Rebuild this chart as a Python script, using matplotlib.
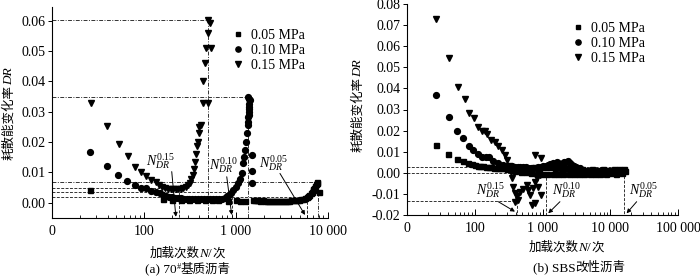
import matplotlib
matplotlib.use("Agg")
import matplotlib.pyplot as plt
from matplotlib.ticker import FixedLocator, LogLocator, NullFormatter

plt.rcParams['font.family'] = ['Liberation Serif', 'Noto Sans CJK SC']
plt.rcParams['mathtext.fontset'] = 'custom'
plt.rcParams['mathtext.rm'] = 'Liberation Serif'
plt.rcParams['mathtext.it'] = 'Liberation Serif:italic'
plt.rcParams['mathtext.bf'] = 'Liberation Serif:bold'
plt.rcParams['axes.unicode_minus'] = False

# ---------------- data: (a) 70# base asphalt ----------------
a_N_005 = [26, 160, 200, 250, 310, 380, 460, 550, 643, 828, 1000, 1120, 1257,
           1530, 1600, 1680, 1760, 1850, 1950, 2050, 2160, 2280, 2400,
           2530, 2660, 2800, 2950, 3100, 3260, 3430, 3610, 3800, 4000,
           4200, 4420, 4650, 4900, 5150, 5400, 5650, 5900, 6100, 6300,
           6500, 6700, 6850, 7000, 7150, 7280, 7430, 7590, 7700, 8040]
a_DR_005 = [0.0041, 0.0011, 0.0010, 0.0009, 0.0009, 0.0008, 0.0008, 0.0008,
            0.0008, 0.0006, 0.0007, 0.0006, 0.0006,
            0.0008, 0.0007, 0.0008, 0.0007, 0.0006, 0.0007, 0.0006, 0.0006, 0.0005, 0.0006,
            0.0005, 0.0005, 0.0006, 0.0005, 0.0005, 0.0006, 0.0005, 0.0006, 0.0006, 0.0007,
            0.0007, 0.0008, 0.0009, 0.0010, 0.0011, 0.0013, 0.0015, 0.0019, 0.0022, 0.0026,
            0.0030, 0.0036, 0.0040, 0.0045, 0.0049, 0.0054, 0.0060, 0.0066, 0.0069, 0.0036]

a_N_010 = [26, 39, 52, 65, 80, 92, 105, 119, 134, 149,
           160, 172, 185, 200, 215, 232, 250, 270, 290, 312,
           336, 362, 390, 420, 452, 487, 524, 565, 608, 655,
           705, 760, 794, 840, 890, 937, 1000, 1062, 1110, 1156,
           1205, 1230, 1257, 1285, 1312, 1340, 1365, 1380, 1400, 1425,
           1370, 1390, 1375, 1395, 1385, 1360, 1510, 1510, 1510]
a_DR_010 = [0.0166, 0.0120, 0.0090, 0.0072, 0.0057, 0.0047, 0.0047, 0.0039, 0.0035, 0.0030,
            0.0025, 0.0021, 0.0019, 0.0017, 0.0016, 0.0015, 0.0014, 0.0013, 0.0013, 0.0012,
            0.0012, 0.0011, 0.0011, 0.0011, 0.0011, 0.0011, 0.0012, 0.0012, 0.0012, 0.0013,
            0.0013, 0.0016, 0.0020, 0.0025, 0.0032, 0.0041, 0.0050, 0.0063, 0.0078, 0.0096,
            0.0129, 0.0150, 0.0173, 0.0200, 0.0228, 0.0255, 0.0283, 0.0300, 0.0316, 0.0338,
            0.0349, 0.0343, 0.0325, 0.0310, 0.0290, 0.0265, 0.0157, 0.0105, 0.0063]

a_N_015 = [26.4, 39.1, 53.3, 66.8, 79.6, 91.8, 105, 119, 134, 146,
           158, 170, 182, 195, 208, 222, 236, 251, 267, 284,
           302, 315, 328, 340, 352, 362, 372, 380, 386, 392,
           399, 416, 435, 500, 441, 460, 470, 531, 500, 500, 520]
a_DR_015 = [0.0329, 0.0253, 0.0192, 0.0154, 0.0118, 0.0102, 0.0088, 0.0074, 0.0067, 0.0059,
            0.0052, 0.0049, 0.0046, 0.0045, 0.0044, 0.0044, 0.0044, 0.0045, 0.0047, 0.0051,
            0.0058, 0.0066, 0.0077, 0.0090, 0.0110, 0.0135, 0.0160, 0.0185, 0.0201, 0.0228,
            0.0250, 0.0256, 0.0327, 0.0327, 0.0401, 0.0459, 0.0509, 0.0509, 0.0558, 0.0602, 0.0591]

# thresholds (a): dashed (start value, N_DR) and dash-dot (peak, N_f)
a_thr_DR = [0.0047, 0.0034, 0.0017]
a_thr_N = [240, 900, 5900]
a_peak_DR = [0.0602, 0.0349, 0.0068]
a_peak_N = [493, 1355, 7830]

# ---------------- data: (b) SBS modified asphalt ----------------
b_N_005 = [26.5, 40.4, 53.7, 67.2, 79.6, 89.3, 100, 110, 120, 132,
           145, 160, 175, 192, 210, 230, 252, 276, 302, 330,
           362, 396, 433, 474, 519, 568, 622, 680, 745, 815,
           892, 976, 1070, 1170, 1280, 1400, 1530, 1680, 1840, 2010,
           2200, 2410, 2640, 2890, 3160, 3460, 3790, 4150, 4540, 4970,
           5440, 5950, 6510, 7130, 7800, 8540, 9350, 10200, 11200, 12300,
           13400, 14700, 16100, 16500]
b_DR_005 = [0.0132, 0.0089, 0.0064, 0.0056, 0.0045, 0.0040, 0.0036, 0.0034, 0.0032, 0.0030,
            0.0029, 0.0027, 0.0026, 0.0025, 0.0024, 0.0023, 0.0022, 0.0021, 0.0020, 0.0019,
            0.0018, 0.0010, 0.0024, 0.0006, 0.0022, 0.0002, 0.0024, 0.0000, 0.0026, -0.0004,
            0.0024, -0.0006, 0.0026, -0.0008, 0.0028, -0.0006, 0.0024, -0.0008, 0.0022, -0.0006,
            0.0024, -0.0007, 0.0020, -0.0008, 0.0018, -0.0006, 0.0016, -0.0008, 0.0015, -0.0005,
            0.0016, -0.0007, 0.0014, -0.0004, 0.0016, -0.0006, 0.0015, -0.0003, 0.0017, -0.0004,
            0.0016, 0.0000, 0.0020, 0.0008]

b_N_010 = [27, 41, 55, 67, 81, 94, 110, 126, 145, 163,
           186, 221, 262, 310, 350, 390, 430, 470, 515, 560,
           610, 665, 725, 790, 860, 940, 1020, 1110, 1210, 1300,
           1400, 1500, 1610, 1700, 1800, 1900, 2000, 2100, 2250, 2390,
           2550, 2700, 2900, 3100, 3350, 3600]
b_DR_010 = [0.0369, 0.0263, 0.0198, 0.0164, 0.0127, 0.0108, 0.0088, 0.0076, 0.0073, 0.0076,
            0.0056, 0.0048, 0.0037, 0.0032, 0.0030, 0.0029, 0.0028, 0.0027, 0.0026, 0.0026,
            0.0025, 0.0025, 0.0024, 0.0025, 0.0026, 0.0027, 0.0030, 0.0034, 0.0037, 0.0042,
            0.0046, 0.0044, 0.0053, 0.0048, 0.0040, 0.0042, 0.0046, 0.0050, 0.0052, 0.0057,
            0.0045, 0.0038, 0.0032, 0.0028, 0.0025, 0.0022]

b_N_015 = [26.5, 41.3, 55.5, 70.4, 82.5, 96.6, 109.6, 126, 140, 152,
           171, 197, 221, 248, 277, 300, 316, 335, 348, 368,
           390, 390, 413, 436, 462, 513, 581, 610, 649, 687,
           720, 769, 769, 815, 861, 912, 944, 769, 960]
b_DR_015 = [0.0727, 0.0545, 0.0405, 0.0350, 0.0282, 0.0258, 0.0218, 0.0200, 0.0200, 0.0185,
            0.0155, 0.0147, 0.0127, 0.0108, 0.0084, 0.0061, 0.0030, 0.0005, -0.0026, -0.0066,
            -0.0097, -0.0137, -0.0110, -0.0129, -0.0090, -0.0075, -0.0058, -0.0080, -0.0105, -0.0153,
            -0.0070, -0.0042, -0.0145, -0.0026, -0.0066, -0.0010, -0.0105, 0.0084, 0.0069]

b_thr_DR = [-0.0134, 0.0000, 0.0026]
b_thr_N = [413, 1120, 16100]

legend_labels = ['0.05 MPa', '0.10 MPa', '0.15 MPa']
x_ticks_a = [10, 100, 1000, 10000]
x_labels_a = ['0', '100', '1 000', '10 000']
x_ticks_b = [10, 100, 1000, 10000, 100000]
x_labels_b = ['0', '100', '1 000', '10 000', '100 000']
y_ticks_a = [0.00, 0.01, 0.02, 0.03, 0.04, 0.05, 0.06]
y_ticks_b = [-0.02, -0.01, 0.00, 0.01, 0.02, 0.03, 0.04, 0.05, 0.06, 0.07, 0.08]

W, H = 700, 280
fig = plt.figure(figsize=(7, 2.8), dpi=100)

def fx(x):
    return x / W

def fy(y):
    return 1 - y / H

ax1 = fig.add_axes([fx(52.3), fy(218), 275.4 / W, 211 / H])
ax2 = fig.add_axes([fx(407.3), fy(215), 270.7 / W, 211 / H])

mk = dict(color='black', linestyle='none', zorder=3)

def style(ax, xt, xl, yt, xlim, ylim):
    ax.set_xscale('log')
    ax.set_xlim(*xlim)
    ax.set_ylim(*ylim)
    for s in ['top', 'right']:
        ax.spines[s].set_visible(False)
    for s in ['left', 'bottom']:
        ax.spines[s].set_linewidth(0.8)
    ax.xaxis.set_major_locator(FixedLocator(xt))
    ax.set_xticklabels(xl)
    ax.xaxis.set_minor_locator(LogLocator(base=10, subs=range(2, 10)))
    ax.xaxis.set_minor_formatter(NullFormatter())
    ax.set_yticks(yt)
    ax.set_yticklabels(['%.2f' % v for v in yt])
    ax.tick_params(axis='x', which='major', direction='in', length=4, width=0.7, labelsize=10, pad=5)
    ax.tick_params(axis='x', which='minor', direction='in', length=2, width=0.6)
    ax.tick_params(axis='y', which='major', direction='out', length=3, width=0.7, labelsize=10, pad=2)

style(ax1, x_ticks_a, x_labels_a, y_ticks_a, (10, 10000), (-0.0051, 0.0645))
style(ax2, x_ticks_b, x_labels_b, y_ticks_b, (10, 100000), (-0.02, 0.08))

lw = 0.7
dd = (0, (4, 1.5, 1, 1.5))
for d, n in zip(a_thr_DR, a_thr_N):
    ax1.plot([10, n], [d, d], color='#333333', lw=lw, ls='--', dashes=(3, 1.5), zorder=1)
    ax1.plot([n, n], [d, -0.0051], color='#333333', lw=lw, ls='--', dashes=(3, 1.5), zorder=1)
for d, n in zip(a_peak_DR, a_peak_N):
    ax1.plot([10, n], [d, d], color='#333333', lw=lw, ls=dd, zorder=1)
    ax1.plot([n, n], [d, -0.0051], color='#333333', lw=lw, ls=dd, zorder=1)
for d, n in zip(b_thr_DR, b_thr_N):
    ax2.plot([10, n], [d, d], color='#333333', lw=lw, ls='--', dashes=(3, 1.5), zorder=1)
    ax2.plot([n, n], [d, -0.02], color='#333333', lw=lw, ls='--', dashes=(3, 1.5), zorder=1)

ax1.plot(a_N_005, a_DR_005, marker='s', ms=3.6, label=legend_labels[0], **mk)
ax1.plot(a_N_010, a_DR_010, marker='o', ms=4.2, label=legend_labels[1], **mk)
ax1.plot(a_N_015, a_DR_015, marker='v', ms=4.4, label=legend_labels[2], **mk)

ax2.plot(b_N_005, b_DR_005, marker='s', ms=3.6, label=legend_labels[0], **mk)
ax2.plot(b_N_010, b_DR_010, marker='o', ms=4.2, label=legend_labels[1], **mk)
ax2.plot(b_N_015, b_DR_015, marker='v', ms=4.4, label=legend_labels[2], **mk)

leg_kw = dict(frameon=False, handlelength=0.6, handletextpad=0.6, borderpad=0,
              labelspacing=0.15, fontsize=10, markerscale=0.9, loc='upper left')
ax1.legend(bbox_to_anchor=(fx(227), fy(22)), bbox_transform=fig.transFigure, **leg_kw)
ax2.legend(bbox_to_anchor=(fx(567), fy(15)), bbox_transform=fig.transFigure, **leg_kw)

arw = dict(arrowstyle='-|>', lw=0.7, color='black', mutation_scale=6, shrinkA=0, shrinkB=0)
ann_a = [(r'$N_{DR}^{0.15}$', (149, 0.0135), (200, 0.0102), (222, -0.0047)),
         (r'$N_{DR}^{0.10}$', (729, 0.0124), (795, 0.0085), (900, -0.0041)),
         (r'$N_{DR}^{0.05}$', (2550, 0.0129), (3020, 0.0096), (5660, -0.0041))]
for t, tp, s, e in ann_a:
    ax1.text(tp[0], tp[1], t, ha='center', va='center', fontsize=10, zorder=4)
    ax1.annotate('', xy=e, xytext=s, arrowprops=arw, annotation_clip=False)
ann_b = [(r'$N_{DR}^{0.15}$', (167, -0.0082), (221, -0.0137), (390, -0.0184)),
         (r'$N_{DR}^{0.10}$', (2260, -0.0082), (1800, -0.0137), (1210, -0.0192)),
         (r'$N_{DR}^{0.05}$', (30600, -0.0082), (24500, -0.0137), (17400, -0.0192))]
for t, tp, s, e in ann_b:
    ax2.text(tp[0], tp[1], t, ha='center', va='center', fontsize=10, zorder=4)
    ax2.annotate('', xy=e, xytext=s, arrowprops=arw, annotation_clip=False)

# ---- mixed-font labels built from pieces ----
CJK = 'Noto Sans CJK SC'
SER = 'Liberation Serif'
renderer = fig.canvas.get_renderer()

def pieces_text(pieces, cx, cy, vertical=False):
    """pieces: list of (string, family, style, size, raise_px). cx, cy: centre (px)."""
    objs, widths = [], []
    for s, fam, sty, size, rise in pieces:
        t = fig.text(0, 0, s, family=fam, style=sty, fontsize=size,
                     ha='left', va='baseline')
        widths.append(t.get_window_extent(renderer=renderer).width)
        objs.append(t)
    total = sum(widths)
    pos = -total / 2.0
    for t, w, p in zip(objs, widths, pieces):
        rise = p[4]
        if vertical:
            t.set_rotation(90)
            t.set_rotation_mode('anchor')
            t.set_position((fx(cx + 4 - rise), fy(cy - pos)))
        else:
            t.set_position((fx(cx + pos), fy(cy + 4 - rise)))
        pos += w

ylab = [('耗散能变化率', CJK, 'normal', 9, 0), ('DR', SER, 'italic', 9.5, 0)]
xlab = [('加载次数', CJK, 'normal', 9, 0), ('N', SER, 'italic', 9.5, 0), ('/', SER, 'normal', 9.5, 0), ('次', CJK, 'normal', 9, 0)]
pieces_text(ylab, 8, 114, vertical=True)
pieces_text(ylab, 357, 106, vertical=True)
pieces_text(xlab, 187, 253)
pieces_text(xlab, 566, 247)
pieces_text([('(a) 70', SER, 'normal', 9.5, 0), ('#', SER, 'normal', 6, 4), ('基质沥青', CJK, 'normal', 9, 0)], 188, 269)
pieces_text([('(b) SBS', SER, 'normal', 9.5, 0), ('改性沥青', CJK, 'normal', 9, 0)], 579, 267)

fig.savefig('out.png', dpi=100)
